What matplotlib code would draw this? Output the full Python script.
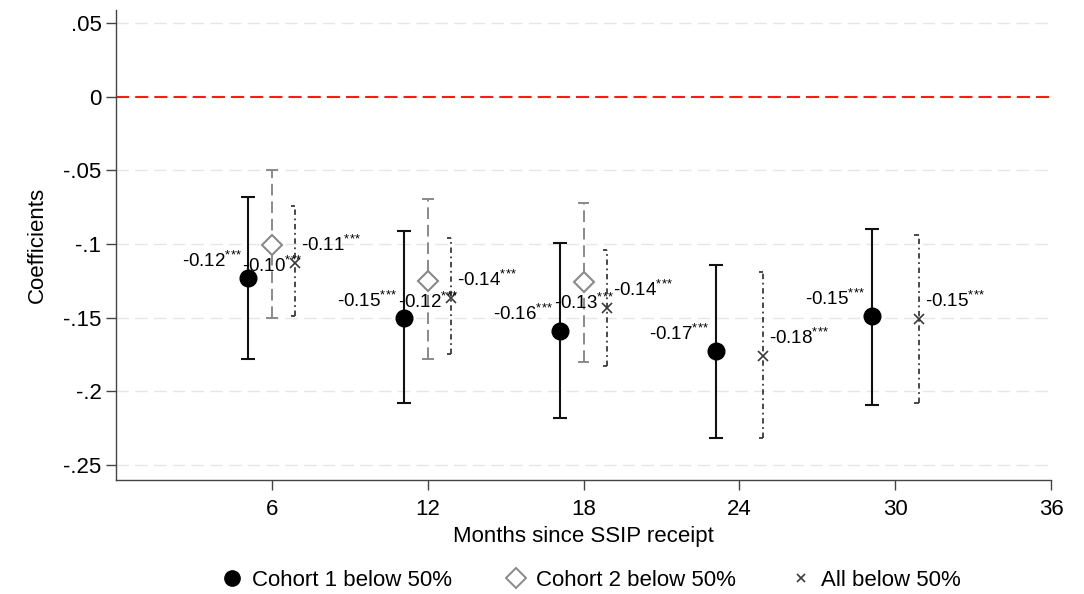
"""
Coefficient plot: effect by months since SSIP receipt, three samples.
"""
import matplotlib
matplotlib.use("Agg")
import numpy as np
from matplotlib import pyplot as plt
from matplotlib.lines import Line2D

plt.rcParams['font.family'] = ['Liberation Sans', 'DejaVu Sans']
plt.rcParams['mathtext.fontset'] = 'custom'
plt.rcParams['mathtext.rm'] = 'Liberation Sans'
plt.rcParams['mathtext.it'] = 'Liberation Sans:italic'
plt.rcParams['mathtext.bf'] = 'Liberation Sans:bold'

# data
months = np.array([6, 12, 18, 24, 30])

c1_b = [-0.123, -0.150, -0.159, -0.173, -0.149]
c1_lo = [-0.178, -0.208, -0.218, -0.232, -0.209]
c1_hi = [-0.068, -0.091, -0.0995, -0.114, -0.090]
c1_lab = ["-0.12", "-0.15", "-0.16", "-0.17", "-0.15"]

c2_months = np.array([6, 12, 18])
c2_b = [-0.101, -0.125, -0.1256]
c2_lo = [-0.150, -0.178, -0.180]
c2_hi = [-0.050, -0.0696, -0.0723]
c2_lab = ["-0.10", "-0.12", "-0.13"]

all_b = [-0.113, -0.137, -0.1435, -0.176, -0.151]
all_lo = [-0.149, -0.175, -0.183, -0.232, -0.208]
all_hi = [-0.074, -0.096, -0.104, -0.119, -0.094]
all_lab = ["-0.11", "-0.14", "-0.14", "-0.18", "-0.15"]

stars = "$^{{*}{*}{*}}$"

yticks = [0.05, 0, -0.05, -0.1, -0.15, -0.2, -0.25]
ytick_labels = [".05", "0", "-.05", "-.1", "-.15", "-.2", "-.25"]
xticks = [6, 12, 18, 24, 30, 36]

f = plt.figure(figsize=(10.84, 5.94), dpi=100)
ax = f.add_axes([0.107, 0.192, 0.8626, 0.791])

ax.set_xlim(0, 36)
ax.set_ylim(-0.2602, 0.0587)

# grid
for y in yticks:
    if y == 0:
        continue
    ax.axhline(y, color="#e6e6e6", lw=1.0, ls=(0, (9, 4.5)), zorder=0)
ax.axhline(0, color="#ff1a1a", lw=1.5, ls=(0, (6.3, 2.9)), zorder=1)

cap = 0.27
off = 0.9

# cohort 1
x1 = months - off
ax.vlines(x1, c1_lo, c1_hi, color="#111111", lw=1.5, zorder=2)
ax.hlines(c1_lo, x1 - cap, x1 + cap, color="#111111", lw=1.5, zorder=2)
ax.hlines(c1_hi, x1 - cap, x1 + cap, color="#111111", lw=1.5, zorder=2)
ax.plot(x1, c1_b, "o", color="black", ms=12, zorder=4, ls="none")

# cohort 2
x2 = c2_months
gray = "#8a8a8a"
ax.vlines(x2, c2_lo, c2_hi, color=gray, lw=1.4, ls=(0, (6, 3)), zorder=2)
ax.hlines(c2_lo, x2 - cap * 0.85, x2 + cap * 0.85, color=gray, lw=1.4, zorder=2)
ax.hlines(c2_hi, x2 - cap * 0.85, x2 + cap * 0.85, color=gray, lw=1.4, zorder=2)
ax.plot(x2, c2_b, "D", mfc="white", mec=gray, mew=1.5, ms=10, zorder=4, ls="none")

# all
x3 = months + off
dk = "#3a3a3a"
ax.vlines(x3, all_lo, all_hi, color=dk, lw=1.3, ls=(0, (3, 2, 1, 2)), zorder=2)
ax.hlines(all_lo, x3 - cap * 0.6, x3, color=dk, lw=1.3, ls=(0, (3, 2, 1, 2)), zorder=2)
ax.hlines(all_hi, x3 - cap * 0.6, x3, color=dk, lw=1.3, ls=(0, (3, 2, 1, 2)), zorder=2)
ax.plot(x3, all_b, "x", color=dk, ms=7, mew=1.2, zorder=4, ls="none")

# labels
for x, y, s in zip(x1, c1_b, c1_lab):
    ax.annotate(s + stars, (x, y), xytext=(-7, 11), textcoords="offset pixels",
                ha="right", va="baseline", fontsize=13.5, zorder=5)
for x, y, s in zip(x2, c2_b, c2_lab):
    ax.annotate(s + stars, (x, y), xytext=(0, -27), textcoords="offset pixels",
                ha="center", va="baseline", fontsize=13.5, zorder=5)
for x, y, s in zip(x3, all_b, all_lab):
    ax.annotate(s + stars, (x, y), xytext=(6, 12), textcoords="offset pixels",
                ha="left", va="baseline", fontsize=13.5, zorder=5)

ax.set_yticks(yticks)
ax.set_yticklabels(ytick_labels)
ax.set_xticks(xticks)
ax.tick_params(axis="both", labelsize=16, length=7, width=1.0, color="#444444")
ax.tick_params(axis="x", pad=7)
for s in ("top", "right"):
    ax.spines[s].set_visible(False)
for s in ("left", "bottom"):
    ax.spines[s].set_color("#444444")
    ax.spines[s].set_linewidth(1.0)

ax.set_xlabel("Months since SSIP receipt", fontsize=16, labelpad=4)
ax.set_ylabel("Coefficients", fontsize=16, labelpad=11)

handles = [
    Line2D([], [], marker="o", color="black", ls="none", ms=11),
    Line2D([], [], marker="D", mfc="white", mec=gray, mew=1.4, ls="none", ms=10),
    Line2D([], [], marker="x", color=dk, ls="none", ms=6, mew=1.2),
]
f.legend(handles, ["Cohort 1 below 50%", "Cohort 2 below 50%", "All below 50%"],
         loc="center", bbox_to_anchor=(0.546, 0.023), ncol=3, frameon=False,
         fontsize=16, handlelength=0.8, handletextpad=0.5, columnspacing=2.5)

f.savefig("out.png", dpi=100)
